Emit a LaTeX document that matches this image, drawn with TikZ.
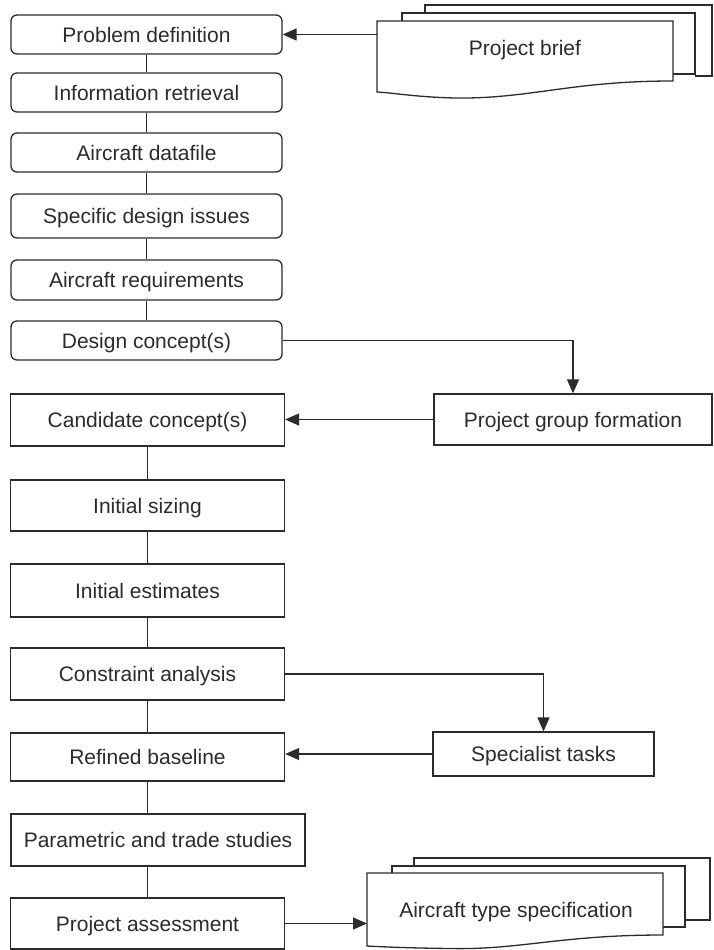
\documentclass[tikz,border=0pt]{standalone}
\usepackage{fontspec}
\setmainfont{Liberation Sans}
\usetikzlibrary{arrows.meta}
\definecolor{ink}{HTML}{2B2B2B}
\begin{document}
\begin{tikzpicture}[x=1pt,y=-1pt,
  every node/.style={font=\fontsize{21}{25}\selectfont, text=ink, inner sep=0pt,
    text height=15.5pt, text depth=0pt},
  rbox/.style={draw=ink, line width=1.3pt, rounded corners=6pt, minimum width=271pt},
  sbox/.style={draw=ink, line width=1.3pt, minimum width=274pt},
  conn/.style={draw=ink, line width=1.3pt},
  arr/.style={conn, -{Triangle[length=14pt,width=12pt]}},
  doc/.style={draw=ink, line width=1.3pt, fill=white, line join=miter}]
\useasboundingbox (0,0) rectangle (713,950);

% left column, rounded boxes
\node[rbox, minimum height=39pt] (pd)  at (146.5,34.5) {Problem definition};
\node[rbox, minimum height=39pt] (ir)  at (146.5,92.5) {Information retrieval};
\node[rbox, minimum height=39pt] (ad)  at (146.5,152.5) {Aircraft datafile};
\node[rbox, minimum height=44pt] (sdi) at (146.5,216) {Specific design issues};
\node[rbox, minimum height=40pt] (ar)  at (146.5,280) {Aircraft requirements};
\node[rbox, minimum height=39pt] (dc)  at (146.5,340.5) {Design concept(s)};

% left column, square boxes
\node[sbox, minimum height=52pt] (cc)  at (147.5,420) {Candidate concept(s)};
\node[sbox, minimum height=51pt] (is)  at (147.5,505.5) {Initial sizing};
\node[sbox, minimum height=53pt] (ie)  at (147.5,590.5) {Initial estimates};
\node[sbox, minimum height=52pt] (ca)  at (147.5,674) {Constraint analysis};
\node[sbox, minimum height=48pt] (rb)  at (147.5,757) {Refined baseline};
\node[sbox, minimum height=52pt, minimum width=294pt] (pts) at (158,840) {Parametric and trade studies};
\node[sbox, minimum height=51pt] (pa)  at (147.5,923.5) {Project assessment};

% right boxes
\node[sbox, minimum height=51pt, minimum width=278pt] (pgf) at (573,419.5) {Project group formation};
\node[sbox, minimum height=44pt, minimum width=221pt] (st)  at (543.5,754) {Specialist tasks};

% vertical connectors
\draw[conn] (pd) -- (ir);
\draw[conn] (ir) -- (ad);
\draw[conn] (ad) -- (sdi);
\draw[conn] (sdi) -- (ar);
\draw[conn] (ar) -- (dc);
\draw[conn] (cc) -- (is);
\draw[conn] (is) -- (ie);
\draw[conn] (ie) -- (ca);
\draw[conn] (ca) -- (rb);
\draw[conn] (rb.south) -- (rb.south |- pts.north);
\draw[conn] (pa.north |- pts.south) -- (pa.north);

% arrows
\draw[arr] (dc.east) -- (dc.east -| pgf.north) -- (pgf.north);
\draw[arr] (pgf.west) -- (pgf.west -| cc.east);
\draw[arr] (ca.east) -- (ca.east -| st.north) -- (st.north);
\draw[arr] (st.west) -- (st.west -| rb.east);

% Project brief document stack
\draw[doc, fill=none] (425,13) -- (425,5) -- (712,5) -- (712,76) -- (695,76);
\draw[doc, fill=none] (402,21) -- (402,13) -- (695,13) -- (695,74) -- (673,74);
\draw[doc] (377,21) -- (673,21) -- (673,81)
  .. controls (570,81) and (530,99) .. (455,98)
  .. controls (415,97) and (395,93) .. (377,92) -- cycle;
\node (brief) at (525,48) {Project brief};
\coordinate (briefin) at (377,34.5);
\draw[arr] (briefin) -- (pd.east);

% Aircraft type specification document stack
\draw[doc, fill=none] (414,866) -- (414,858) -- (710,858) -- (710,920) -- (685,920);
\draw[doc, fill=none] (392,873) -- (392,866) -- (685,866) -- (685,927) -- (663,927);
\draw[doc] (367,873) -- (663,873) -- (663,935)
  .. controls (560,935) and (520,950) .. (450,948.5)
  .. controls (410,948) and (385,947) .. (367,946) -- cycle;
\node (spec) at (516,910) {Aircraft type specification};
\coordinate (specin) at (367,921);
\draw[arr] (pa.east) -- (pa.east -| specin);
\end{tikzpicture}
\end{document}
